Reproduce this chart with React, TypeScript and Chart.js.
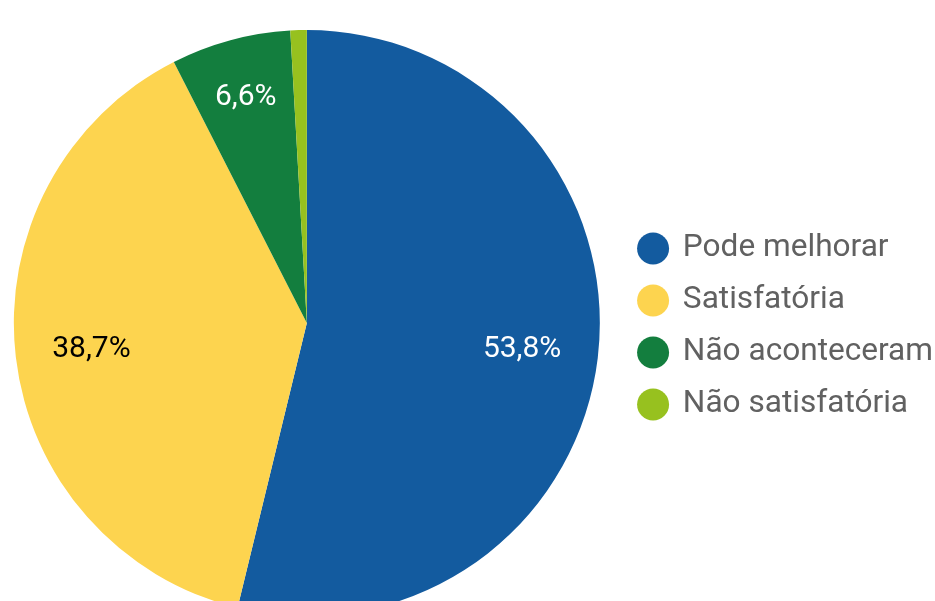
import React, { useEffect, useRef } from "react";
import { Chart, registerables } from "chart.js";

Chart.register(...registerables);

const categories = ["Pode melhorar", "Satisfatória", "Não aconteceram", "Não satisfatória"];
const values = [53.8, 38.7, 6.6, 0.9];
const colors = ["#135B9F", "#FDD44F", "#137E3E", "#97C11F"];
const labelColors = ["#FFFFFF", "#000000", "#FFFFFF", "#FFFFFF"];

const sliceLabels = {
  id: "sliceLabels",
  afterDatasetsDraw(chart: any) {
    const { ctx } = chart;
    const meta = chart.getDatasetMeta(0);
    const total = values.reduce((a, b) => a + b, 0);
    ctx.save();
    ctx.font = "30px Roboto";
    ctx.textAlign = "center";
    ctx.textBaseline = "middle";
    meta.data.forEach((arc: any, i: number) => {
      const pct = (values[i] / total) * 100;
      if (pct < 2) return;
      const { startAngle, endAngle, outerRadius, x, y } = arc.getProps(
        ["startAngle", "endAngle", "outerRadius", "x", "y"],
        true
      );
      const mid = (startAngle + endAngle) / 2;
      const f = pct < 10 ? 0.8 : 0.74;
      const r = outerRadius * f;
      ctx.fillStyle = labelColors[i];
      ctx.fillText(pct.toFixed(1).replace(".", ",") + "%", x + Math.cos(mid) * r, y + Math.sin(mid) * r + 1);
    });
    ctx.restore();
  },
};

export default function App() {
  const ref = useRef<HTMLCanvasElement>(null);
  useEffect(() => {
    let chart: Chart | null = null;
    let cancelled = false;
    const make = () => {
      if (cancelled || !ref.current) return;
      Chart.defaults.font.family = "Roboto";
      chart = new Chart(ref.current, {
        type: "pie",
        data: {
          labels: categories,
          datasets: [
            {
              data: values,
              backgroundColor: colors,
              borderWidth: 0,
              hoverOffset: 0,
            },
          ],
        },
        options: {
          responsive: false,
          animation: false,
          layout: { padding: { top: 30, left: 0, right: 0, bottom: 0 } },
          plugins: {
            tooltip: { enabled: false },
            legend: {
              position: "right",
              title: { display: true, text: "", padding: 0, font: { size: 7, lineHeight: 1 } },
              labels: {
                usePointStyle: true,
                pointStyle: "circle",
                boxWidth: 28,
                boxHeight: 22.6,
                padding: 20.4,
                color: "#616161",
                font: { size: 31.6, family: "Roboto" },
              },
            },
          },
        },
        plugins: [sliceLabels],
      });
    };
    const fonts: any = (document as any).fonts;
    if (fonts && fonts.load) {
      fonts.load("30px Roboto").then(make, make);
    } else make();
    return () => {
      cancelled = true;
      if (chart) chart.destroy();
    };
  }, []);
  return (
    <div
      style={{
        position: "fixed",
        left: 0,
        top: 0,
        width: 935,
        height: 601,
        overflow: "hidden",
        background: "#ffffff",
      }}
    >
      <canvas
        ref={ref}
        width={948}
        height={616}
        style={{ display: "block", position: "absolute", left: -5, top: 0 }}
      />
    </div>
  );
}
